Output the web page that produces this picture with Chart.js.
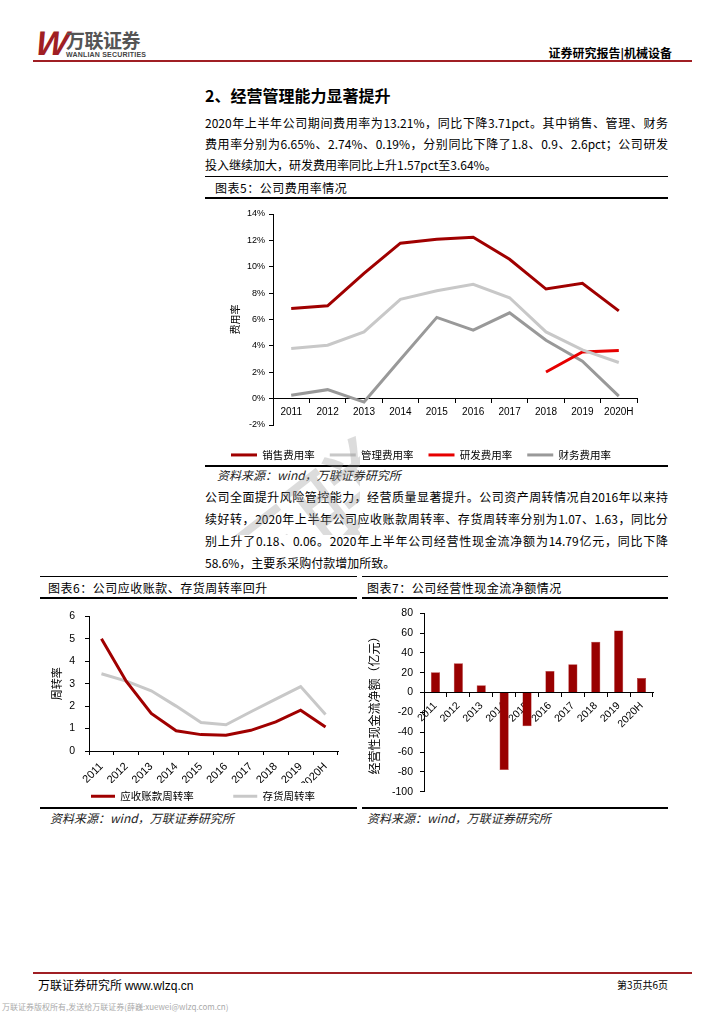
<!DOCTYPE html>
<html>
<head>
<meta charset="utf-8">
<script src="https://cdn.jsdelivr.net/npm/chart.js@4.4.0/dist/chart.umd.min.js"></script>
<style>
  body { margin: 0; width: 724px; height: 1024px; position: relative; background: #fff; overflow: hidden;
         font-family: "Noto Sans CJK SC", sans-serif; color: #000; }
  .abs { position: absolute; white-space: nowrap; }
  .rule { position: absolute; background: #000; }
  .red { position: absolute; background: #a01f24; height: 2px; }
  .line { position: absolute; left: 205px; width: 463px; height: 22px; line-height: 22px; font-size: 12px;
          text-align: justify; text-align-last: justify; white-space: nowrap; }
  .line.last { text-align-last: left; }
  .cap { position: absolute; font-size: 12px; letter-spacing: 0.5px; line-height: 16px; white-space: nowrap; }
  .src { position: absolute; font-size: 12px; font-style: italic; line-height: 16px; white-space: nowrap; color: #222; }
  .box { position: absolute; }
  .wm { position: absolute; left: 195px; top: 430px; width: 165px; height: 105px; overflow: hidden; pointer-events: none; }
</style>
</head>
<body>

<!-- header -->
<div class="abs" style="left:36px;top:24px;font:italic bold 34px 'Liberation Sans';color:#a01f24;transform:skewX(-8deg);letter-spacing:-4px;">W</div>
<div class="abs" style="left:66px;top:26px;font-size:19px;font-weight:bold;color:#555;letter-spacing:-0.5px;">万联证券</div>
<div class="abs" style="left:66px;top:51px;font:bold 7px 'Liberation Sans';color:#444;letter-spacing:0.2px;">WANLIAN SECURITIES</div>
<div class="abs" style="right:52px;top:44px;font-size:12px;font-weight:bold;">证券研究报告|机械设备</div>
<div class="red" style="left:33px;top:60px;width:659px;"></div>

<!-- section text -->
<div class="abs" style="left:205px;top:83px;font-size:16px;font-weight:bold;">2、经营管理能力显著提升</div>
<div class="line" style="top:112px;">2020年上半年公司期间费用率为13.21%，同比下降3.71pct。其中销售、管理、财务</div>
<div class="line" style="top:133px;">费用率分别为6.65%、2.74%、0.19%，分别同比下降了1.8、0.9、2.6pct；公司研发</div>
<div class="line last" style="top:154px;">投入继续加大，研发费用率同比上升1.57pct至3.64%。</div>

<!-- figure 5 -->
<div class="rule" style="left:205px;top:176px;width:463px;height:1px;"></div>
<div class="cap" style="left:215px;top:180px;">图表5：公司费用率情况</div>
<div class="rule" style="left:205px;top:197px;width:463px;height:2px;"></div>
<div class="box" style="left:205px;top:200px;width:463px;height:264px;"><canvas id="c5"></canvas></div>
<div class="rule" style="left:205px;top:465px;width:463px;height:2px;"></div>
<div class="src" style="left:217px;top:467px;">资料来源：wind，万联证券研究所</div>

<div class="line" style="top:486px;">公司全面提升风险管控能力，经营质量显著提升。公司资产周转情况自2016年以来持</div>
<div class="line" style="top:508px;">续好转，2020年上半年公司应收账款周转率、存货周转率分别为1.07、1.63，同比分</div>
<div class="line" style="top:530px;">别上升了0.18、0.06。2020年上半年公司经营性现金流净额为14.79亿元，同比下降</div>
<div class="line last" style="top:552px;">58.6%，主要系采购付款增加所致。</div>

<!-- watermark -->
<div class="wm"><div class="abs" style="left:-12px;top:122px;font-size:110px;line-height:110px;color:rgba(150,150,150,0.33);transform:rotate(-38deg);transform-origin:0 0;">万联</div></div>

<!-- figure 6 -->
<div class="rule" style="left:40px;top:576px;width:317px;height:1px;"></div>
<div class="cap" style="left:48px;top:580px;">图表6：公司应收账款、存货周转率回升</div>
<div class="rule" style="left:40px;top:597px;width:317px;height:2px;"></div>
<div class="box" style="left:40px;top:600px;width:310px;height:205px;"><canvas id="c6"></canvas></div>
<div class="rule" style="left:40px;top:807px;width:317px;height:2px;"></div>
<div class="src" style="left:50px;top:810px;">资料来源：wind，万联证券研究所</div>

<!-- figure 7 -->
<div class="rule" style="left:362px;top:576px;width:306px;height:1px;"></div>
<div class="cap" style="left:367px;top:580px;">图表7：公司经营性现金流净额情况</div>
<div class="rule" style="left:362px;top:597px;width:306px;height:2px;"></div>
<div class="box" style="left:360px;top:600px;width:308px;height:205px;"><canvas id="c7"></canvas></div>
<div class="rule" style="left:362px;top:807px;width:306px;height:2px;"></div>
<div class="src" style="left:367px;top:810px;">资料来源：wind，万联证券研究所</div>

<!-- footer -->
<div class="red" style="left:33px;top:972px;width:659px;"></div>
<div class="abs" style="left:38px;top:976px;font-size:12px;">万联证券研究所 <span style="font-family:'Liberation Sans';">www.wlzq.cn</span></div>
<div class="abs" style="right:56px;top:977px;font-size:10px;">第3页共6页</div>
<div class="abs" style="left:2px;top:1001px;font-size:8px;color:#aaa;">万联证券版权所有,发送给万联证券(薛巍:xuewei@wlzq.com.cn)</div>

<script>
const years = ['2011', '2012', '2013', '2014', '2015', '2016', '2017', '2018', '2019', '2020H'];

// 图表5 费用率 (%)
const salesRate   = [6.84, 7.04, 9.5, 11.79, 12.09, 12.24, 10.57, 8.31, 8.75, 6.65];
const adminRate   = [3.80, 4.05, 5.06, 7.53, 8.18, 8.67, 7.65, 5.06, 3.70, 2.74];
const rdRate      = [null, null, null, null, null, null, null, 2.02, 3.54, 3.64];
const financeRate = [0.25, 0.68, -0.26, 2.97, 6.16, 5.19, 6.51, 4.43, 2.84, 0.19];

// 图表6 周转率
const arTurnover  = [5.00, 3.10, 1.67, 0.90, 0.73, 0.70, 0.92, 1.30, 1.82, 1.07];
const invTurnover = [3.44, 3.11, 2.68, 2.00, 1.27, 1.17, 1.75, 2.31, 2.87, 1.63];

// 图表7 经营性现金流净额 (亿元)
const cashFlow = [20.5, 29.5, 7.4, -78.2, -33.9, 21.8, 28.5, 51.3, 62.7, 14.79];

const NUM = "'Liberation Sans', Arial, sans-serif";
const CJK = "'Noto Sans CJK SC', sans-serif";
Chart.defaults.font.family = NUM;
Chart.defaults.color = '#000';
Chart.defaults.animation = false;

// fixes the legend box height (so the plot area ends where it should) and nudges it sideways
const legendBox = (h, dx = 0) => ({
  id: 'legendBox',
  beforeInit(chart) {
    const fit = chart.legend.fit;
    chart.legend.fit = function () { fit.call(this); this.height = h; };
  },
  afterLayout(chart) {
    chart.legend.left += dx;
    chart.legend.right += dx;
  }
});

function lineSet(label, data, color) {
  return { label, data, borderColor: color, backgroundColor: color, borderWidth: 3,
           pointRadius: 0, tension: 0, fill: false, spanGaps: false };
}

function tickGrid(len) {
  return { display: true, drawOnChartArea: false, drawTicks: true, tickLength: len, color: '#000', offset: true };
}

// 图表5
new Chart(document.getElementById('c5'), {
  type: 'line',
  data: {
    labels: years,
    datasets: [
      lineSet('销售费用率', salesRate, '#a00000'),
      lineSet('管理费用率', adminRate, '#c8c8c8'),
      lineSet('研发费用率', rdRate, '#e60000'),
      lineSet('财务费用率', financeRate, '#999999')
    ]
  },
  options: {
    responsive: true,
    maintainAspectRatio: false,
    layout: { padding: { left: 0, right: 31, top: 14, bottom: 0 } },
    plugins: {
      tooltip: { enabled: false },
      legend: {
        position: 'bottom',
        title: { display: true, text: '', font: { size: 1 }, padding: { top: 8.5, bottom: 0 } },
        labels: { usePointStyle: true, pointStyle: 'line', pointStyleWidth: 26, padding: 15,
                  font: { family: CJK, size: 10.5 }, color: '#000' }
      }
    },
    scales: {
      x: {
        position: { y: 0 },
        offset: true,
        grid: tickGrid(4),
        border: { display: true, color: '#000', width: 1 },
        ticks: { padding: 4, maxRotation: 0, autoSkip: false, font: { size: 10 } }
      },
      y: {
        min: -2, max: 14,
        afterFit: s => { s.width = 68; },
        grid: { display: true, drawOnChartArea: false, drawTicks: true, tickLength: 4, color: '#000' },
        border: { display: true, color: '#000', width: 1 },
        ticks: { stepSize: 2, padding: 4, font: { size: 9 }, callback: v => v + '%' },
        title: { display: true, text: '费用率', font: { family: CJK, size: 10 }, padding: { top: 24, bottom: 0 } }
      }
    }
  },
  plugins: [legendBox(39)]
});

// 图表6
new Chart(document.getElementById('c6'), {
  type: 'line',
  data: {
    labels: years,
    datasets: [
      lineSet('应收账款周转率', arTurnover, '#a00000'),
      lineSet('存货周转率', invTurnover, '#c8c8c8')
    ]
  },
  options: {
    responsive: true,
    maintainAspectRatio: false,
    layout: { padding: { left: 0, right: 12, top: 16, bottom: 0 } },
    plugins: {
      tooltip: { enabled: false },
      legend: {
        position: 'bottom',
        labels: { usePointStyle: true, pointStyle: 'line', pointStyleWidth: 24, padding: 8,
                  font: { family: CJK, size: 10.5 }, color: '#000',
                  // wider gap after the first item
                  generateLabels: chart => Chart.defaults.plugins.legend.labels.generateLabels(chart)
                    .map((item, i) => (i === 0 ? Object.assign(item, { text: item.text + '\u3000\u3000\u3000' }) : item)) }
      }
    },
    scales: {
      x: {
        offset: true,
        afterFit: s => { s.height = 32; },
        grid: tickGrid(4),
        border: { display: true, color: '#000', width: 1 },
        ticks: { padding: 5, minRotation: 45, maxRotation: 45, autoSkip: false, font: { size: 11 } }
      },
      y: {
        min: 0, max: 6,
        afterFit: s => { s.width = 49; },
        grid: { display: true, drawOnChartArea: false, drawTicks: true, tickLength: 4, color: '#000' },
        border: { display: true, color: '#000', width: 1 },
        ticks: { stepSize: 1, padding: 10, font: { size: 10.5 } },
        title: { display: true, text: '周转率', font: { family: CJK, size: 11 }, padding: { top: 10, bottom: 0 } }
      }
    }
  },
  plugins: [legendBox(22, 14)]
});

// 图表7
new Chart(document.getElementById('c7'), {
  type: 'bar',
  data: {
    labels: years,
    datasets: [{ label: '经营性现金流净额', data: cashFlow, backgroundColor: '#990000',
                 borderColor: '#b03030', borderWidth: 0.5, barPercentage: 0.4, categoryPercentage: 1 }]
  },
  options: {
    responsive: true,
    maintainAspectRatio: false,
    layout: { padding: { left: 0, right: 15, top: 13, bottom: 12 } },
    plugins: { tooltip: { enabled: false }, legend: { display: false } },
    scales: {
      x: {
        position: { y: 0 },
        grid: tickGrid(4),
        border: { display: true, color: '#000', width: 1 },
        ticks: { padding: 3, minRotation: 45, maxRotation: 45, autoSkip: false, font: { size: 10.5 } }
      },
      y: {
        min: -100, max: 80,
        afterFit: s => { s.width = 64; },
        grid: { display: true, drawOnChartArea: false, drawTicks: true, tickLength: 4, color: '#000' },
        border: { display: true, color: '#000', width: 1 },
        ticks: { stepSize: 20, padding: 7, font: { size: 10.5 } },
        title: { display: true, text: '经营性现金流净额（亿元）', font: { family: CJK, size: 12 }, padding: { top: 7, bottom: 0 } }
      }
    }
  }
});
</script>
</body>
</html>
